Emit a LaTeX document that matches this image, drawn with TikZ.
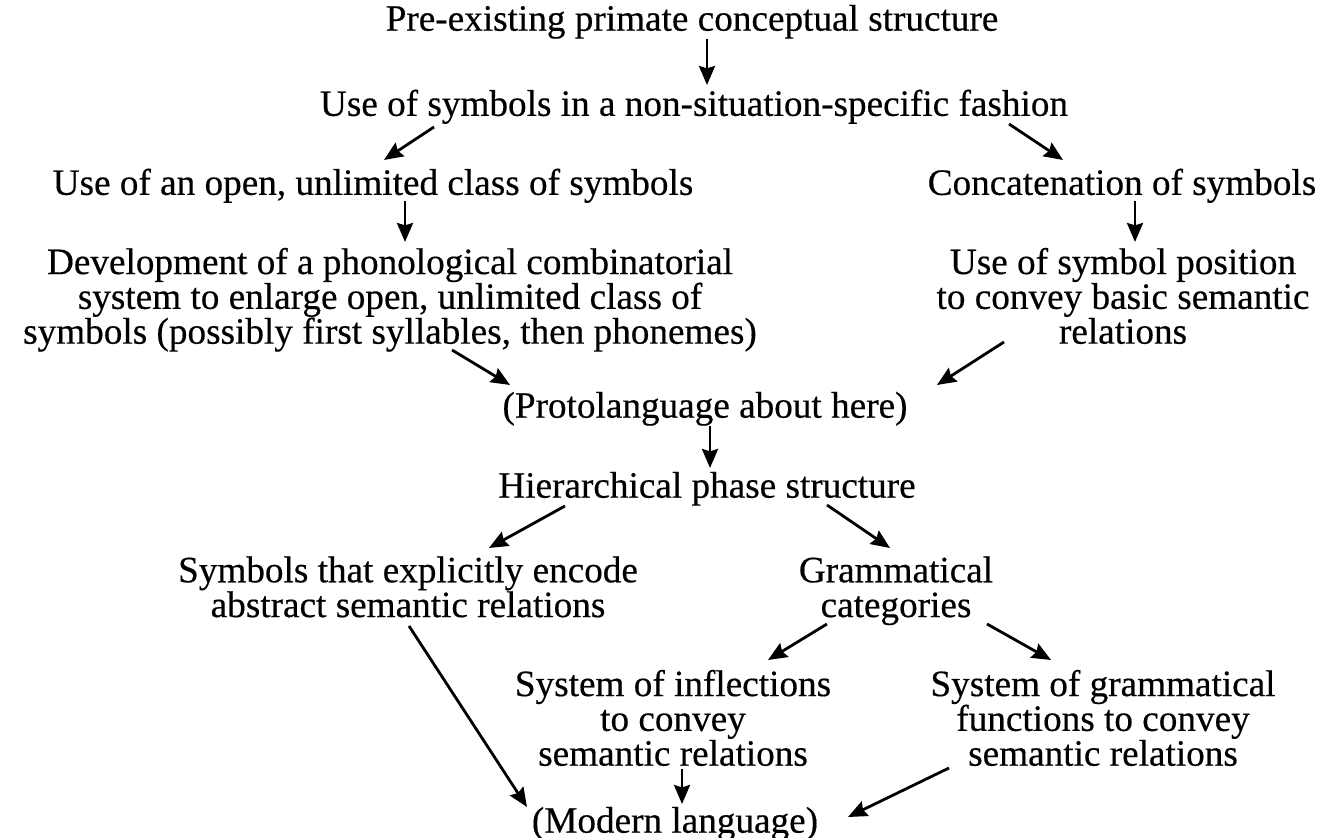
\documentclass[tikz,border=0pt]{standalone}
\usepackage{fontspec}
\setmainfont{Liberation Serif}[FakeBold=0.4]
\usetikzlibrary{arrows.meta,calc}
\newcommand\tightlines{\lineskiplimit=-20pt\relax}
\begin{document}
\begin{tikzpicture}[x=0.5pt,y=-0.5pt,
  lbl/.style={inner sep=0pt,align=center,font=\fontsize{18.6}{17.4}\selectfont\tightlines},
  arr/.style={line width=1.4pt,-{Stealth[length=9.5pt,width=8pt,inset=1.2pt]}}]
\useasboundingbox (0,0) rectangle (1317,838);
\node[lbl] (top) at (692,23) {\strut Pre-existing primate conceptual structure};
\node[lbl] (use) at (694,108) {\strut Use of symbols in a non-situation-specific fashion};
\node[lbl] (open) at (373,187) {\strut Use of an open, unlimited class of symbols};
\node[lbl] (concat) at (1122,187) {\strut Concatenation of symbols};
\node[lbl] (dev) at (390,301) {\strut Development of a phonological combinatorial\\\strut system to enlarge open, unlimited class of\\\strut symbols (possibly first syllables, then phonemes)};
\node[lbl] (pos) at (1123,301) {\strut Use of symbol position\\\strut to convey basic semantic\\\strut relations};
\node[lbl] (proto) at (705,410) {\strut (Protolanguage about here)};
\node[lbl] (hier) at (707,490) {\strut Hierarchical phase structure};
\node[lbl] (expl) at (408,592) {\strut Symbols that explicitly encode\\\strut abstract semantic relations};
\node[lbl] (gram) at (896,592) {\strut Grammatical\\\strut categories};
\node[lbl] (infl) at (673,723) {\strut System of inflections\\\strut to convey\\\strut semantic relations};
\node[lbl] (gfun) at (1103,723) {\strut System of grammatical\\\strut functions to convey\\\strut semantic relations};
\node[lbl] (modern) at (675,825) {\strut (Modern language)};
\draw[arr] ($(top)+(15,16)$) -- ($(use)+(13,-23)$);
\draw[arr] ($(use)+(-260,19)$) -- ($(open)+(11,-27)$);
\draw[arr] ($(use)+(315,16)$) -- ($(concat)+(-59,-27)$);
\draw[arr] ($(open)+(32,14)$) -- ($(dev)+(15,-59)$);
\draw[arr] ($(concat)+(13,14)$) -- ($(pos)+(12,-59)$);
\draw[arr] ($(dev)+(62,49)$) -- ($(proto)+(-195,-25)$);
\draw[arr] ($(pos)+(-119,41)$) -- ($(proto)+(232,-25)$);
\draw[arr] ($(proto)+(5,16)$) -- ($(hier)+(3,-22)$);
\draw[arr] ($(hier)+(-142,16)$) -- ($(expl)+(81,-44)$);
\draw[arr] ($(hier)+(120,15)$) -- ($(gram)+(-6,-44)$);
\draw[arr] ($(gram)+(-69,32)$) -- ($(infl)+(95,-63)$);
\draw[arr] ($(gram)+(91,32)$) -- ($(gfun)+(-52,-63)$);
\draw[arr] ($(expl)+(1,34)$) -- ($(modern)+(-148,-18)$);
\draw[arr] ($(infl)+(9,46)$) -- ($(modern)+(7,-21)$);
\draw[arr] ($(gfun)+(-154,45)$) -- ($(modern)+(173,-8)$);
\end{tikzpicture}
\end{document}
